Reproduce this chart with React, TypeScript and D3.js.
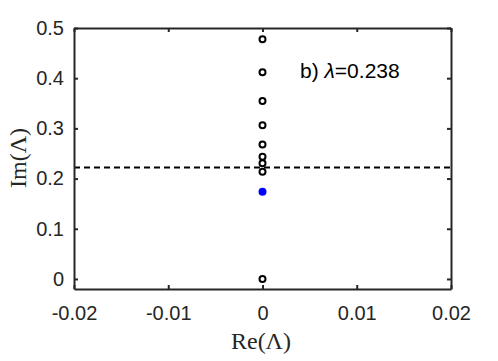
import React, { useEffect, useRef } from "react";
import * as d3 from "d3";

const reValues = [0, 0, 0, 0, 0, 0, 0, 0, 0];
const imValues = [0.4775, 0.4117, 0.3546, 0.306, 0.268, 0.2436, 0.2305, 0.2137, 0.0];
const blueRe = [0];
const blueIm = [0.174];
const threshold = 0.222;
const xTicks = [-0.02, -0.01, 0, 0.01, 0.02];
const xTickLabels = ["-0.02", "-0.01", "0", "0.01", "0.02"];
const yTicks = [0, 0.1, 0.2, 0.3, 0.4, 0.5];
const yTickLabels = ["0", "0.1", "0.2", "0.3", "0.4", "0.5"];

export default function App() {
  const ref = useRef<SVGSVGElement>(null);
  const W = 498, H = 361;
  const L = 74, R = 451, T = 28, B = 289;

  useEffect(() => {
    const svg = d3.select(ref.current);
    svg.selectAll("*").remove();
    const x = d3.scaleLinear().domain([-0.02, 0.02]).range([L, R]);
    const y = d3.scaleLinear().domain([-0.02, 0.5]).range([B, T]);
    const axisColor = "#262626";
    const font = "'Liberation Sans', Arial, Helvetica, sans-serif";
    const serif = "'Liberation Serif', 'DejaVu Serif', serif";

    svg.append("rect").attr("width", W).attr("height", H).attr("fill", "#fff");

    svg.append("line")
      .attr("x1", L).attr("x2", R)
      .attr("y1", y(threshold)).attr("y2", y(threshold))
      .attr("stroke", "#000").attr("stroke-width", 2).attr("stroke-dasharray", "6,4");

    svg.selectAll("circle.open").data(imValues).enter().append("circle")
      .attr("class", "open")
      .attr("cx", (_, i) => x(reValues[i])).attr("cy", (d) => y(d))
      .attr("r", 3).attr("fill", "none").attr("stroke", "#000").attr("stroke-width", 2);

    svg.selectAll("circle.blue").data(blueIm).enter().append("circle")
      .attr("class", "blue")
      .attr("cx", (_, i) => x(blueRe[i])).attr("cy", (d) => y(d))
      .attr("r", 4).attr("fill", "#0000ff");

    const tickSize = 4;
    const bottom = svg.append("g").attr("transform", `translate(0,${B})`)
      .call(d3.axisBottom(x).tickValues(xTicks).tickSize(-tickSize).tickSizeOuter(0).tickPadding(17)
        .tickFormat((_, i) => xTickLabels[i]));
    const top = svg.append("g").attr("transform", `translate(0,${T})`)
      .call(d3.axisTop(x).tickValues(xTicks).tickSize(-tickSize).tickSizeOuter(0).tickFormat(() => ""));
    const left = svg.append("g").attr("transform", `translate(${L},0)`)
      .call(d3.axisLeft(y).tickValues(yTicks).tickSize(-tickSize).tickSizeOuter(0).tickPadding(10)
        .tickFormat((_, i) => yTickLabels[i]));
    const right = svg.append("g").attr("transform", `translate(${R},0)`)
      .call(d3.axisRight(y).tickValues(yTicks).tickSize(-tickSize).tickSizeOuter(0).tickFormat(() => ""));

    [bottom, top, left, right].forEach((g) => {
      g.selectAll(".domain").attr("stroke", axisColor).attr("stroke-width", 2);
      g.selectAll(".tick line").attr("stroke", axisColor).attr("stroke-width", 2);
      g.selectAll(".tick text").attr("fill", axisColor).attr("font-family", font).attr("font-size", 20);
    });

    svg.append("text").attr("x", 261).attr("y", 349).attr("text-anchor", "middle")
      .attr("font-family", serif).attr("font-size", 24).attr("fill", axisColor).text("Re(Λ)");
    svg.append("text").attr("transform", "translate(26,158) rotate(-90)").attr("text-anchor", "middle")
      .attr("font-family", serif).attr("font-size", 24).attr("fill", axisColor).text("Im(Λ)");

    const ann = svg.append("text").attr("x", 300).attr("y", 78)
      .attr("font-family", font).attr("font-size", 21).attr("fill", "#000");
    ann.append("tspan").text("b) ");
    ann.append("tspan").attr("font-style", "italic").text("λ");
    ann.append("tspan").text("=0.238");
  }, []);

  return (
    <svg ref={ref} width={W} height={H} style={{ position: "absolute", left: 0, top: 0 }} />
  );
}
